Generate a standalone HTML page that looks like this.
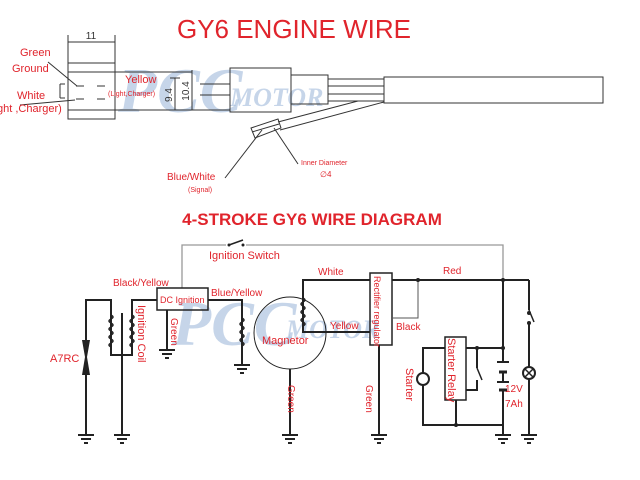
<!DOCTYPE html>
<html><head><meta charset="utf-8"><style>
body{margin:0;background:#fff;}
svg{display:block;font-family:"Liberation Sans",Arial,sans-serif;}
.r{fill:#e0242c;}
.w{stroke:#222;stroke-width:2;fill:none;}
.t{stroke:#333;stroke-width:1;fill:none;}
</style></head><body>
<svg width="640" height="480" viewBox="0 0 640 480" xmlns="http://www.w3.org/2000/svg">
<defs>
<g id="gnd"><line x1="-8" y1="0" x2="8" y2="0" stroke="#222" stroke-width="2"/><line x1="-5" y1="4" x2="5" y2="4" stroke="#222" stroke-width="2"/><line x1="-2" y1="8" x2="2" y2="8" stroke="#222" stroke-width="2"/></g>
</defs>
<g fill="#a9c0de" font-family="Liberation Serif,serif" font-style="italic" font-weight="bold">
<text x="118" y="112" font-size="64" opacity="0.65">PCC</text>
<text x="230" y="106" font-size="26" opacity="0.65">MOTOR</text>
<text x="172" y="345" font-size="64" opacity="0.65">PCC</text>
<text x="286" y="338" font-size="26" opacity="0.65">MOTOR</text>
</g>
<text x="294" y="38" class="r" font-size="26" text-anchor="middle">GY6 ENGINE WIRE</text>
<g class="t">
<line x1="68" y1="35" x2="68" y2="63"/><line x1="115" y1="35" x2="115" y2="63"/>
<line x1="68" y1="42" x2="115" y2="42"/>
<rect x="68" y="63" width="47" height="56"/>
<line x1="68" y1="72" x2="192" y2="72"/>
<line x1="68" y1="110" x2="230" y2="110"/>
<line x1="60" y1="84" x2="60" y2="98"/><line x1="60" y1="84" x2="65" y2="84"/><line x1="60" y1="98" x2="65" y2="98"/>
<line x1="76" y1="86" x2="84" y2="86"/><line x1="97" y1="86" x2="105" y2="86"/>
<line x1="76" y1="99" x2="84" y2="99"/><line x1="97" y1="99" x2="105" y2="99"/>
<line x1="175" y1="78" x2="175" y2="110"/><line x1="192" y1="70" x2="192" y2="110"/>
<line x1="170" y1="78" x2="180" y2="78"/>
<line x1="200" y1="84" x2="230" y2="84"/><line x1="200" y1="95" x2="230" y2="95"/>
<rect x="230" y="68" width="61" height="44"/>
<rect x="291" y="75" width="37" height="29"/>
<line x1="328" y1="79" x2="384" y2="79"/><line x1="328" y1="86" x2="384" y2="86"/>
<line x1="328" y1="94" x2="384" y2="94"/><line x1="328" y1="101" x2="384" y2="101"/>
<rect x="384" y="77" width="219" height="26"/>
<line x1="358" y1="101" x2="278" y2="122"/><line x1="384" y1="102" x2="280" y2="130"/>
<polygon points="251,128 278,119 281,128 255,138"/>
<line x1="252" y1="132" x2="279" y2="124"/>
<line x1="262" y1="130" x2="225" y2="178"/>
<line x1="274" y1="128" x2="298" y2="164"/>
<line x1="48" y1="62" x2="77" y2="86"/><line x1="20" y1="105" x2="75" y2="100"/>
</g>
<text x="91" y="39" font-size="10" text-anchor="middle" fill="#333">11</text>
<text transform="translate(172,95) rotate(-90)" font-size="10" text-anchor="middle" fill="#333">9.4</text>
<text transform="translate(189,91) rotate(-90)" font-size="10" text-anchor="middle" fill="#333">10.4</text>
<g class="r">
<text x="20" y="56" font-size="11">Green</text>
<text x="12" y="72" font-size="11">Ground</text>
<text x="17" y="99" font-size="11">White</text>
<text x="-3" y="112" font-size="11">ght ,Charger)</text>
<text x="125" y="83" font-size="11">Yellow</text>
<text x="108" y="96" font-size="7">(Light,Charger)</text>
<text x="167" y="180" font-size="10">Blue/White</text>
<text x="188" y="192" font-size="7">(Signal)</text>
<text x="301" y="165" font-size="7">Inner Diameter</text>
<text x="320" y="177" font-size="8">∅4</text>
<text x="312" y="225" font-size="17" font-weight="bold" text-anchor="middle">4-STROKE GY6 WIRE DIAGRAM</text>
</g>
<polyline points="182,288 182,245 503,245 503,280" stroke="#999" stroke-width="1.3" fill="none"/>
<rect x="226" y="238" width="20" height="10" fill="#fff"/>
<line x1="229" y1="245" x2="243" y2="240" stroke="#222" stroke-width="1.5"/>
<circle cx="229" cy="245" r="1.5" fill="#222"/><circle cx="243" cy="245" r="1.5" fill="#222"/>
<g class="w">
<rect x="157" y="288" width="51" height="22" stroke-width="1.5"/>
<polyline points="157,300 132,300 132,355 111,355 111,300 86,300 86,435"/>
<line x1="122" y1="313" x2="122" y2="435"/>
<line x1="167" y1="310" x2="167" y2="350"/>
<polyline points="208,300 242,300 242,365"/>
<circle cx="290" cy="333" r="36" stroke-width="1"/>
<polyline points="370,280 303,280 303,332 370,332"/>
<line x1="290" y1="369" x2="290" y2="435"/>
<rect x="370" y="273" width="22" height="72" stroke-width="1.5"/>
<line x1="392" y1="280" x2="529" y2="280"/>
<line x1="379" y1="345" x2="379" y2="435"/>
<line x1="503" y1="280" x2="503" y2="362"/><line x1="503" y1="372" x2="503" y2="382"/><line x1="503" y1="390" x2="503" y2="435"/>
<line x1="529" y1="280" x2="529" y2="310"/><line x1="529" y1="324" x2="529" y2="367"/><line x1="529" y1="379" x2="529" y2="435"/>
<rect x="445" y="337" width="21" height="63" stroke-width="1.5"/>
<polyline points="445,348 423,348 423,373"/><polyline points="423,385 423,425 503,425"/>
<line x1="456" y1="400" x2="456" y2="425"/>
<line x1="466" y1="348" x2="503" y2="348"/>
<polyline points="477,348 477,368"/><polyline points="477,380 477,390 466,390"/>
</g>
<polyline points="418,280 418,318 392,318" stroke="#555" stroke-width="1" fill="none"/>
<g stroke="#222" stroke-width="1.5" fill="none">
<path d="M111,315 q4,2 0,4 q-4,2 0,4 q4,2 0,4 q-4,2 0,4 q4,2 0,4 q-4,2 0,4 q4,2 0,4 q-4,2 0,4"/>
<path d="M132,315 q4,2 0,4 q-4,2 0,4 q4,2 0,4 q-4,2 0,4 q4,2 0,4 q-4,2 0,4 q4,2 0,4 q-4,2 0,4"/>
<path d="M242,318 q4,2 0,4 q-4,2 0,4 q4,2 0,4 q-4,2 0,4 q4,2 0,4 q-4,2 0,4 q4,2 0,4"/>
<path d="M303,298 q4,2 0,4 q-4,2 0,4 q4,2 0,4 q-4,2 0,4 q4,2 0,4 q-4,2 0,4 q4,2 0,4"/>
<line x1="529" y1="310" x2="534" y2="322"/>
<line x1="477" y1="368" x2="482" y2="380"/>
<circle cx="423" cy="379" r="6" stroke-width="2"/>
<circle cx="529" cy="373" r="6" stroke-width="2"/>
<line x1="525" y1="369" x2="533" y2="377"/><line x1="533" y1="369" x2="525" y2="377"/>
</g>
<line x1="497" y1="362" x2="509" y2="362" stroke="#222" stroke-width="2"/>
<line x1="499" y1="372" x2="507" y2="372" stroke="#222" stroke-width="3"/>
<line x1="497" y1="382" x2="509" y2="382" stroke="#222" stroke-width="2"/>
<line x1="499" y1="390" x2="507" y2="390" stroke="#222" stroke-width="3"/>
<path d="M82,340 L90,340 L87,357 L90,375 L82,375 L85,357 Z" fill="#222"/>
<g fill="#222"><circle cx="418" cy="280" r="2"/><circle cx="503" cy="280" r="2"/><circle cx="503" cy="348" r="2"/><circle cx="477" cy="348" r="2"/><circle cx="456" cy="425" r="2"/><circle cx="529" cy="313" r="2"/><circle cx="529" cy="323" r="2"/></g>
<use href="#gnd" x="86" y="435"/><use href="#gnd" x="122" y="435"/><use href="#gnd" x="167" y="350"/>
<use href="#gnd" x="242" y="365"/><use href="#gnd" x="290" y="435"/><use href="#gnd" x="379" y="435"/>
<use href="#gnd" x="503" y="435"/><use href="#gnd" x="529" y="435"/>
<g class="r" font-size="10">
<text x="209" y="259" font-size="11">Ignition Switch</text>
<text x="113" y="286">Black/Yellow</text>
<text x="211" y="296">Blue/Yellow</text>
<text x="160" y="303" font-size="9">DC Ignition</text>
<text x="50" y="362" font-size="11">A7RC</text>
<text transform="translate(138,305) rotate(90)" font-size="11">Ignition Coil</text>
<text transform="translate(171,318) rotate(90)">Green</text>
<text x="262" y="344" font-size="11">Magnetor</text>
<text x="318" y="275">White</text>
<text x="330" y="329">Yellow</text>
<text transform="translate(288,385) rotate(90)">Green</text>
<text transform="translate(374,276) rotate(90)" font-size="9">Rectifier regulator</text>
<text x="443" y="274">Red</text>
<text x="396" y="330">Black</text>
<text transform="translate(366,385) rotate(90)">Green</text>
<text transform="translate(448,338) rotate(90)" font-size="11">Starter Relay</text>
<text transform="translate(406,368) rotate(90)" font-size="11">Starter</text>
<text x="505" y="392">12V</text>
<text x="505" y="407">7Ah</text>
</g>
</svg>
</body></html>
